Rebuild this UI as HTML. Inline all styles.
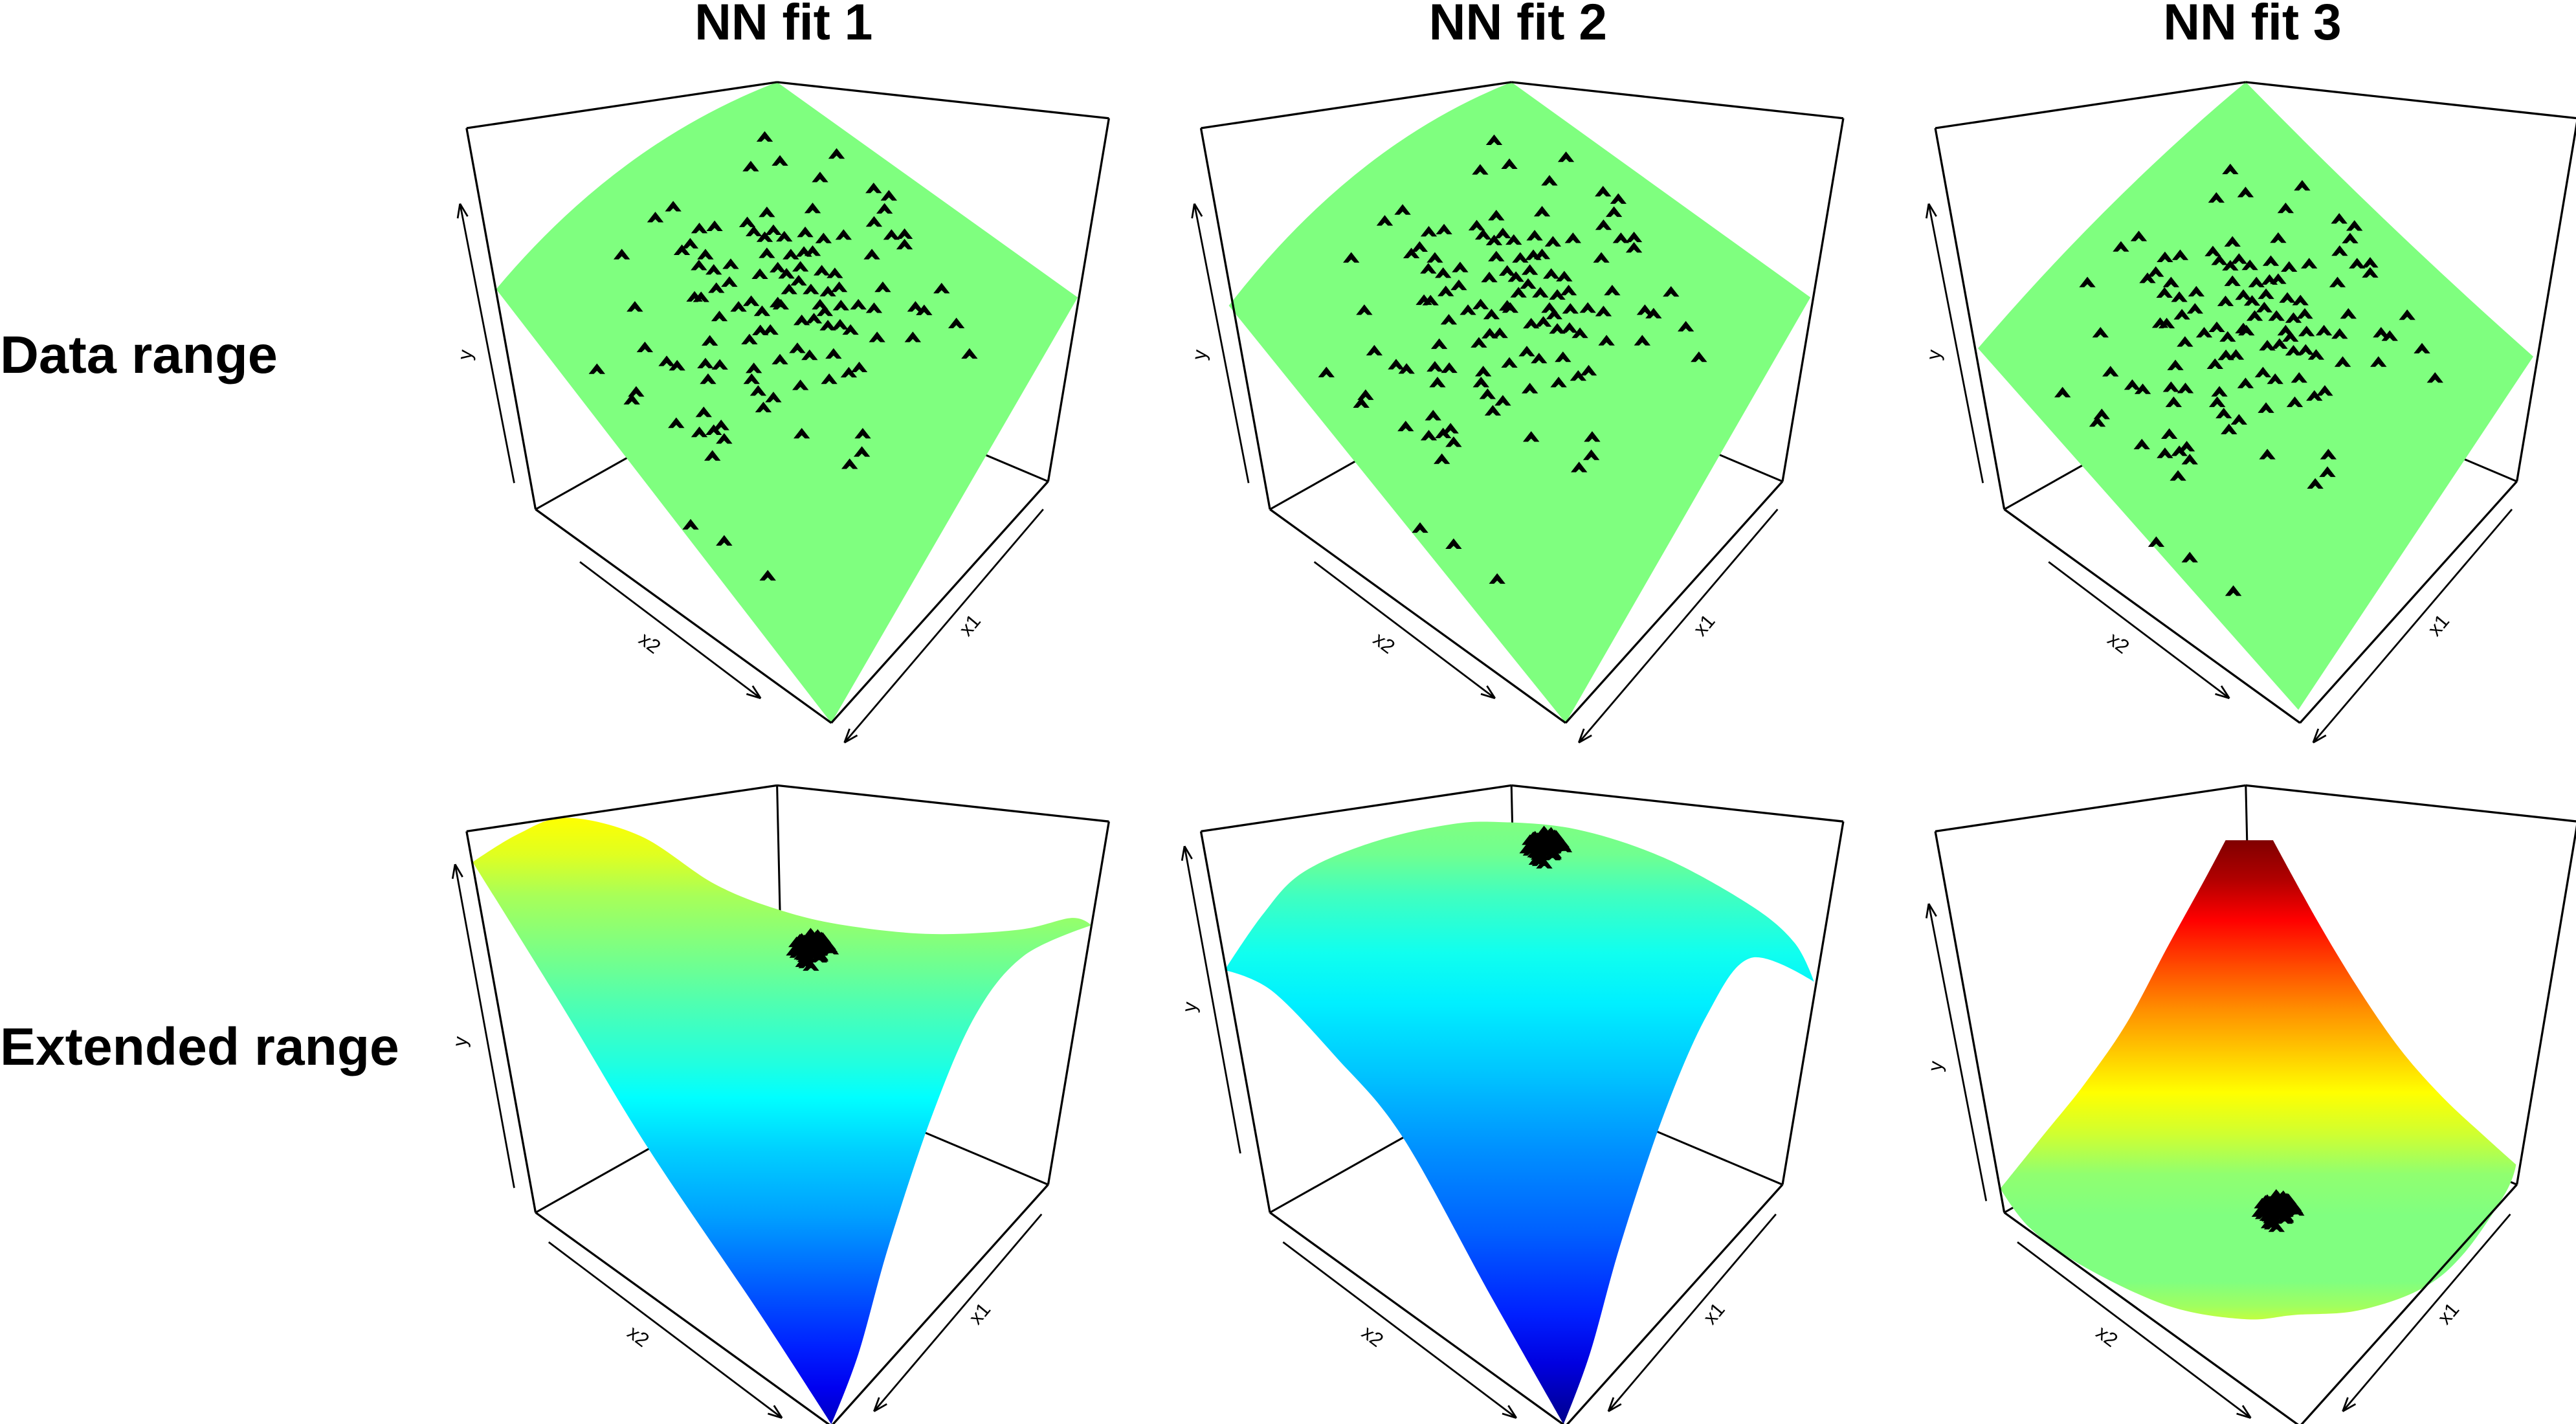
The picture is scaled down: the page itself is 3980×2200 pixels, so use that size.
<!DOCTYPE html>
<html><head><meta charset="utf-8"><style>
html,body{margin:0;padding:0;background:#fff;}
svg{display:block;}
text{font-family:"Liberation Sans",Arial,sans-serif;}
</style></head>
<body>
<svg id="fig" xmlns="http://www.w3.org/2000/svg" width="3980" height="2200" viewBox="0 0 1568 866.7" preserveAspectRatio="none">
<defs id="defs"></defs>
<g id="root"></g>
</svg>
<script>
// ---- data: observed inputs (x1, x2) ----
const x1Vals = [-1.55,-1.45,-1.05,-2.18,-1.72,-2.21,-2.30,-2.10,-1.83,0.30,0.63,-0.71,-1.28,0.25,0.05,-0.37,-0.34,-0.40,-0.58,-0.63,-0.92,-1.06,-1.33,-1.88,-2.04,-1.92,1.44,0.70,0.53,0.48,-0.24,-0.50,-0.68,-0.79,-1.43,0.68,0.56,0.30,0.08,-0.20,-0.23,-0.47,-0.67,-0.79,0.74,0.52,1.09,1.02,0.49,0.20,-0.08,-0.29,-0.33,-0.50,-0.68,-1.18,-1.84,1.89,1.03,0.70,0.48,0.19,-0.26,-0.24,-0.49,-0.70,-0.84,-1.33,-1.39,-1.61,1.42,0.95,0.72,0.60,0.13,-0.03,-0.11,-0.26,-0.32,-0.54,-0.95,-1.41,2.24,2.15,2.08,1.73,1.58,1.88,1.23,1.38,0.83,0.50,0.44,0.15,0.19,0.01,3.04,2.85,2.99,1.44,1.34,1.57,0.89,0.49,2.31,2.75,2.59,2.40,2.26,2.38,2.71,1.43,0.73,0.95,1.23,3.75,3.55,3.45];
const x2Vals = [-2.00,-1.55,-1.82,-0.98,-0.90,-0.16,0.10,0.20,0.23,-2.25,-2.33,-1.11,-0.63,-1.70,-1.55,-1.22,-1.04,-0.85,-0.83,-0.63,-0.44,-0.16,0.03,0.58,0.72,0.84,-2.29,-1.65,-1.63,-1.33,-0.64,-0.35,-0.23,-0.14,0.58,-1.28,-1.06,-0.93,-0.48,-0.35,-0.18,-0.10,0.19,0.37,-0.82,-0.74,-0.97,-0.89,-0.27,0.05,0.03,0.04,0.28,0.50,0.58,1.08,1.77,-1.54,-0.46,-0.35,-0.03,0.11,0.56,0.69,0.81,1.00,1.22,1.68,1.82,2.34,-0.29,0.15,0.17,0.28,0.53,0.65,0.89,1.02,1.20,1.59,2.00,2.84,-0.96,-0.55,-0.38,-0.08,0.10,0.13,0.53,0.63,0.73,0.80,1.02,1.28,1.67,1.73,-1.26,-0.55,-0.51,0.84,1.09,1.09,1.26,1.52,0.46,0.27,0.64,0.78,0.81,1.00,1.06,1.83,2.53,2.73,2.73,1.60,2.17,3.07];
const colTitles = ["NN fit 1","NN fit 2","NN fit 3"];
const rowTitles = ["Data range","Extended range"];

const NS = "http://www.w3.org/2000/svg";
const root = document.getElementById('root');
const defs = document.getElementById('defs');
function el(tag, attrs, parent){ const e=document.createElementNS(NS,tag); for(const k in attrs) e.setAttribute(k,attrs[k]); (parent||root).appendChild(e); return e; }

const PDX = 447;
const boxTop = {TL:[284,78],TB:[473,50],TR:[675,72],BL:[326,310],BR:[638,293],F:[506,440],BK:[477,225]};
function boxFor(col,row){ const o={}; for(const k in boxTop){ o[k]=[boxTop[k][0]+col*PDX, boxTop[k][1]+row*428]; } return o; }

function arrow(g,p0,p1,name){
  const l=el('line',{x1:p0[0],y1:p0[1],x2:p1[0],y2:p1[1],stroke:'#000','stroke-width':1.1},g);
  
  
  const a=Math.atan2(p1[1]-p0[1],p1[0]-p0[0]);
  [0.35,-0.35].forEach(d=>{
    const h=el('line',{x1:p1[0],y1:p1[1],x2:p1[0]-9*Math.cos(a+d),y2:p1[1]-9*Math.sin(a+d),stroke:'#000','stroke-width':1.1},g);
    
    
  });
}
function label(g,txt,x,y,rot,name){
  const t=el('text',{x:x,y:y,'font-size':12,'text-anchor':'middle','dominant-baseline':'middle',transform:`rotate(${rot} ${x} ${y})`},g);
  t.textContent=txt;
  
  
}
function gradient(id,stops){
  const ys=stops.map(s=>s[0]);
  const g=el('linearGradient',{id:id,gradientUnits:'userSpaceOnUse',x1:0,x2:0,y1:ys[0],y2:ys[ys.length-1]},defs);
  stops.forEach(s=>el('stop',{offset:((s[0]-ys[0])/(ys[ys.length-1]-ys[0])).toFixed(4),'stop-color':s[1]},g));
}
const marker = "M-4.6,2.9 L0,-3 L4.6,2.9 L2,2.9 L0,0.9 L-2,2.9 Z";
function drawPoints(g,cx,cy,k,ky,name){
  for(let i=0;i<x1Vals.length;i++){
    const px=cx+k*(x2Vals[i]-x1Vals[i]);
    const py=cy+k*ky*(x1Vals[i]+x2Vals[i]);
    const p=el('path',{d:marker,transform:`translate(${px.toFixed(2)} ${py.toFixed(2)})`,fill:'#000',stroke:'#000','stroke-width':0.4},g);
    
    
  }
}
// smooth closed path (Catmull-Rom); indices in sharp[] keep corners
function smooth(arr, sharp){
  const n=arr.length; let d='M'+arr[0][0]+','+arr[0][1];
  for(let i=0;i<n;i++){
    const p0=arr[(i-1+n)%n], p1=arr[i], p2=arr[(i+1)%n], p3=arr[(i+2)%n];
    const t1 = sharp.includes(i)?0:1/6, t2 = sharp.includes((i+1)%n)?0:1/6;
    const c1=[p1[0]+(p2[0]-p0[0])*t1, p1[1]+(p2[1]-p0[1])*t1];
    const c2=[p2[0]-(p3[0]-p1[0])*t2, p2[1]-(p3[1]-p1[1])*t2];
    d+=` C${c1[0].toFixed(1)},${c1[1].toFixed(1)} ${c2[0].toFixed(1)},${c2[1].toFixed(1)} ${p2[0]},${p2[1]}`;
  }
  return d+' Z';
}

gradient('g1',[[497,'#FFFF00'],[520,'#E0FF20'],[545,'#A8FF58'],[575,'#80FF80'],[610,'#50FFB0'],[648,'#20FFE0'],[668,'#00FFFF'],[700,'#00D0FF'],[740,'#00A0FF'],[780,'#0060FF'],[820,'#0020FF'],[845,'#0000F0'],[867,'#0000C0']]);
gradient('g2',[[500,'#80FF80'],[520,'#70FF90'],[545,'#40FFC0'],[580,'#10FFEF'],[610,'#00F0FF'],[650,'#00C8FF'],[700,'#0090FF'],[750,'#0060FF'],[800,'#0020FF'],[830,'#0000E0'],[867,'#00008B']]);
gradient('g3',[[511,'#7F0000'],[535,'#B00000'],[560,'#FF0000'],[590,'#FF5000'],[615,'#FF9000'],[640,'#FFC800'],[665,'#FFFF00'],[690,'#D0FF30'],[715,'#90FF70'],[740,'#80FF80'],[780,'#80FF80'],[795,'#A0FF60'],[803,'#C0FF40']]);

const topSurf = [
  "M473,50 Q376.5,87 302,176 L506,440 L656,181 Z",
  "M920,50 Q824,88 748,186 L953,440 L1102,181 Z",
  "M1367,50 Q1283,120 1204,212 L1399,432 L1542,217 Q1455,140 1367,50 Z"
];
const botSurf = [
  smooth([[287.7,524.7],[315.6,507.5],[344.8,497.7],[389.8,508.8],[434.9,538],[474.7,553.9],[514.5,563.2],[567.5,568.5],[620.6,565.8],[652.4,558.7],[664.3,563.2],[623.2,581.7],[594,617.5],[567.5,678.5],[541,758],[522.4,824.4],[506,866.8],[461.4,797.9],[395.1,699.7],[342.1,612.2]],[0,10,16]),
  smooth([[745.4,590.5],[768.7,556.5],[792.6,531.3],[835,512.8],[880.1,502.2],[912,500.3],[959.7,504.8],[1012.7,522],[1065.8,551.2],[1092.3,573.8],[1104.2,597.6],[1065.8,583],[1039.2,617.5],[1012.7,678.5],[986.2,758],[967.6,824.4],[951.7,866.8],[906.6,787.3],[853.6,691.8],[813.8,644],[774,602.9]],[0,10,16]),
  smooth([[1354.7,511.4],[1383.6,511.4],[1409.8,559.1],[1435.4,601.5],[1461,638.6],[1486.7,667.7],[1512.3,691.6],[1531.5,708.8],[1525.1,726],[1499.5,763.2],[1473.9,784.4],[1435.4,797.6],[1397,800.3],[1366.2,802.9],[1320.1,794.9],[1268.8,771.1],[1235.5,747.3],[1217.6,723.4],[1243.2,691.6],[1268.8,659.8],[1294.5,622.7],[1320.1,575],[1340.6,537.9]],[0,1,7,17])
];
const topCenters = [[477.4,177.3,1],[921.4,179.3,1],[1369.5,193.4,0.961]];
const botCenters = [[494.6,575],[941,512.8],[1386.7,734]];
const yArrowBot = [[[313,723],[277,526]],[[755,702],[721,515]],[[1209,731],[1174,550]]];
const yLabelBot = [[281,634],[725,613],[1179,649]];

for(let row=0; row<2; row++){
  for(let col=0; col<3; col++){
    const g=el('g',{});
    
    
    const b=boxFor(col,row);
    [['BL','BK'],['BR','BK'],['TB','BK']].forEach(e=>{
      const l=el('line',{x1:b[e[0]][0],y1:b[e[0]][1],x2:b[e[1]][0],y2:b[e[1]][1],stroke:'#000','stroke-width':1.2},g);
      
      
    });
    const s=el('path',{d: row===0?topSurf[col]:botSurf[col], fill: row===0?'#7FFF7F':`url(#g${col+1})`},g);
    
    
    if(row===0){ const c=topCenters[col]; drawPoints(g,c[0],c[1],26.52,c[2],'data-point'); }
    else { const c=botCenters[col]; drawPoints(g,c[0],c[1],2.6,0.75,'data-point'); }
    [['TL','TB'],['TB','TR'],['TL','BL'],['TR','BR'],['BL','F'],['BR','F']].forEach(e=>{
      const l=el('line',{x1:b[e[0]][0],y1:b[e[0]][1],x2:b[e[1]][0],y2:b[e[1]][1],stroke:'#000','stroke-width':1.3},g);
      
      
    });
    const ox=col*PDX;
    if(row===0){
      arrow(g,[313+ox,294],[280+ox,124],'y-axis-arrow');
      label(g,'y',284+ox,216,-82,'y-axis-label');
      arrow(g,[353+ox,342],[463+ox,425],'x2-axis-arrow');
      arrow(g,[635+ox,310],[514+ox,452],'x1-axis-arrow');
      label(g,'x2',395+ox,392,37,'x2-axis-label');
      label(g,'x1',591+ox,381,-50,'x1-axis-label');
    } else {
      arrow(g,yArrowBot[col][0],yArrowBot[col][1],'y-axis-arrow');
      label(g,'y',yLabelBot[col][0],yLabelBot[col][1],-82,'y-axis-label');
      arrow(g,[334+ox,756],[476+ox,863],'x2-axis-arrow');
      arrow(g,[634+ox,739],[532+ox,859],'x1-axis-arrow');
      label(g,'x2',388+ox,814,37,'x2-axis-label');
      label(g,'x1',597+ox,800,-50,'x1-axis-label');
    }
  }
}
colTitles.forEach((t,i)=>{
  const e=el('text',{x:477+i*PDX,y:24,'font-size':31,'font-weight':'bold','text-anchor':'middle'});
  e.textContent=t;
  
  
});
const rowLens=[169,243];
rowTitles.forEach((t,i)=>{
  const e=el('text',{x:0,y:i===0?227:648,'font-size':32,'font-weight':'bold','text-anchor':'start',textLength:rowLens[i],lengthAdjust:'spacingAndGlyphs'});
  e.textContent=t;
  
  
});
</script>
</body></html>
